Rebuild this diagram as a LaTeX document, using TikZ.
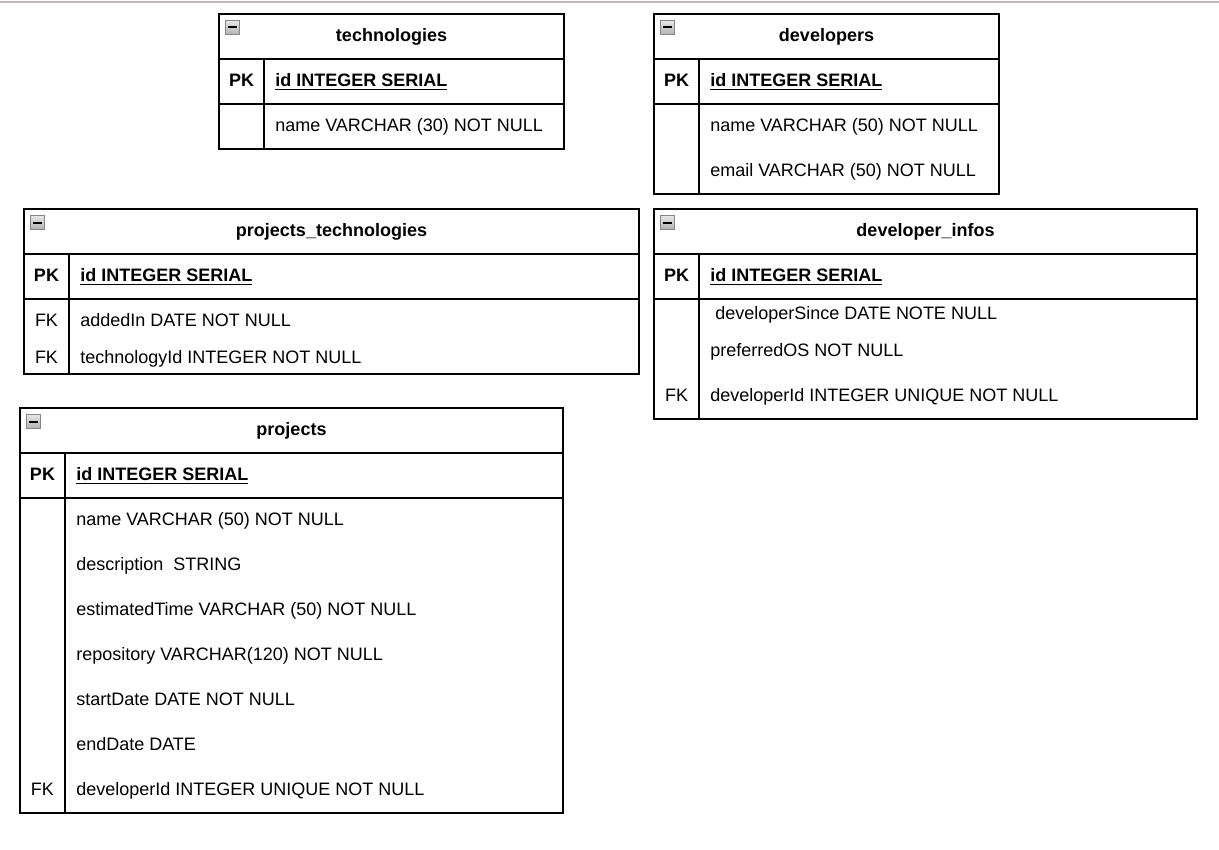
\documentclass[tikz,border=0pt]{standalone}
\usepackage{fontspec}
\setmainfont{Liberation Sans}
\usepackage{tikz}
\usetikzlibrary{positioning}
\newcommand{\tblfont}{\fontsize{13.5}{16}\selectfont}
\tikzset{tbl/.style = {draw, line width=1.1pt}}
\tikzset{key/.style = {inner sep=0pt, text height=0.78em, text depth=0pt, yshift=-0.8pt, font=\tblfont}}
\tikzset{pk/.style = {key, font=\tblfont\bfseries}}
\tikzset{title/.style = {pk}}
\tikzset{field/.style = {key, anchor=west}}
\tikzset{pkfield/.style = {pk, anchor=west}}
\tikzset{icon/.style = {draw=gray!95, line width=0.6pt, top color=gray!20, bottom color=gray!60,
                        minimum size=10pt, inner sep=0pt}}
\definecolor{topline}{RGB}{201, 183, 183}
\newcommand{\dash}{\rule[-0.5pt]{6.8pt}{1.5pt}}

\begin{document}
\begin{tikzpicture}[x=0.75pt, y=-0.75pt]
    \useasboundingbox (0, 0) rectangle (1219, 849);
    \fill [topline] (0, 0.8) rectangle (1219, 3);

    \draw [tbl] (219, 14) rectangle (564, 149);
    \draw [tbl] (219, 59) -- (564, 59) (219, 104) -- (564, 104) (264, 59) -- (264, 149);
    \node [icon] (tech-icon) at (232.5, 27.5) {\dash};
    \node [title] (tech) at (391.5, 35.5) {technologies};
    \node [pk] (tech-pk) at (241.5, 80.5) {PK};
    \node [pkfield] (tech-id) at (275, 80.5) {\underline{id INTEGER SERIAL}};
    \node [field] (tech-name) at (275, 125.5) {name VARCHAR (30) NOT NULL};

    \draw [tbl] (654, 14) rectangle (999, 194);
    \draw [tbl] (654, 59) -- (999, 59) (654, 104) -- (999, 104) (699, 59) -- (699, 194);
    \node [icon] (dev-icon) at (667.5, 27.5) {\dash};
    \node [title] (dev) at (826.5, 35.5) {developers};
    \node [pk] (dev-pk) at (676.5, 80.5) {PK};
    \node [pkfield] (dev-id) at (710, 80.5) {\underline{id INTEGER SERIAL}};
    \node [field] (dev-name) at (710, 125.5) {name VARCHAR (50) NOT NULL};
    \node [field] (dev-email) at (710, 170.5) {email VARCHAR (50) NOT NULL};

    \draw [tbl] (24, 209) rectangle (639, 374);
    \draw [tbl] (24, 254) -- (639, 254) (24, 299) -- (639, 299) (69, 254) -- (69, 374);
    \node [icon] (pt-icon) at (37.5, 222.5) {\dash};
    \node [title] (pt) at (331.5, 230.5) {projects\_technologies};
    \node [pk] (pt-pk) at (46.5, 275.5) {PK};
    \node [pkfield] (pt-id) at (80, 275.5) {\underline{id INTEGER SERIAL}};
    \node [key] (pt-fk1) at (46.5, 320.5) {FK};
    \node [field] (pt-added) at (80, 320.5) {addedIn DATE NOT NULL};
    \node [key] (pt-fk2) at (46.5, 357.5) {FK};
    \node [field] (pt-tech) at (80, 357.5) {technologyId INTEGER NOT NULL};

    \draw [tbl] (654, 209) rectangle (1197, 419);
    \draw [tbl] (654, 254) -- (1197, 254) (654, 299) -- (1197, 299) (699, 254) -- (699, 419);
    \node [icon] (info-icon) at (667.5, 222.5) {\dash};
    \node [title] (info) at (925.5, 230.5) {developer\_infos};
    \node [pk] (info-pk) at (676.5, 275.5) {PK};
    \node [pkfield] (info-id) at (710, 275.5) {\underline{id INTEGER SERIAL}};
    \node [field] (info-since) at (715, 313.5) {developerSince DATE NOTE NULL};
    \node [field] (info-os) at (710, 350) {preferredOS NOT NULL};
    \node [key] (info-fk) at (676.5, 395.5) {FK};
    \node [field] (info-dev) at (710, 395.5) {developerId INTEGER UNIQUE NOT NULL};

    \draw [tbl] (20, 408) rectangle (563, 813);
    \draw [tbl] (20, 453) -- (563, 453) (20, 498) -- (563, 498) (65, 453) -- (65, 813);
    \node [icon] (proj-icon) at (33.5, 421.5) {\dash};
    \node [title] (proj) at (291.5, 429.5) {projects};
    \node [pk] (proj-pk) at (42.5, 474.5) {PK};
    \node [pkfield] (proj-id) at (76, 474.5) {\underline{id INTEGER SERIAL}};
    \node [field] (proj-name) at (76, 519.5) {name VARCHAR (50) NOT NULL};
    \node [field] (proj-desc) at (76, 564.5) {description\ \ STRING};
    \node [field] (proj-time) at (76, 609.5) {estimatedTime VARCHAR (50) NOT NULL};
    \node [field] (proj-repo) at (76, 654.5) {repository VARCHAR(120) NOT NULL};
    \node [field] (proj-start) at (76, 699.5) {startDate DATE NOT NULL};
    \node [field] (proj-end) at (76, 744.5) {endDate DATE};
    \node [key] (proj-fk) at (42.5, 789.5) {FK};
    \node [field] (proj-dev) at (76, 789.5) {developerId INTEGER UNIQUE NOT NULL};
\end{tikzpicture}
\end{document}
